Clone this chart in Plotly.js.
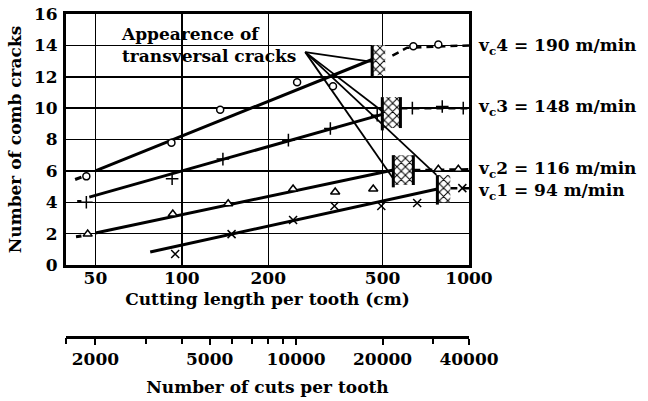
<!DOCTYPE html>
<html>
<head>
<meta charset="utf-8">
<script src="https://cdn.plot.ly/plotly-3.0.1.min.js"></script>
<style>html,body{margin:0;padding:0;background:#fff;}#chart{width:648px;height:401px;}</style>
</head>
<body>
<div id="chart"></div>
<script>
// ---------- data ----------
// x: cutting length per tooth (cm), y: number of comb cracks
const vc4LineX = [50, 460];      const vc4LineY = [6.0, 13.1];
const vc4LeadX = [42.5, 44.7];   const vc4LeadY = [5.45, 5.6];
const vc4PtsX  = [46.5, 92, 136, 252, 336, 640, 782];
const vc4PtsY  = [5.65, 7.8, 9.9, 11.65, 11.4, 13.95, 14.05];
const vc4AfterX = [541, 609, 1000]; const vc4AfterY = [13.35, 13.85, 14.0];
const vc4BoxX = [460, 511];      const vc4BoxY = [12.1, 14.0];

const vc3LineX = [47.6, 499];    const vc3LineY = [4.33, 9.6];
const vc3LeadX = [43.2, 44.7];   const vc3LeadY = [4.05, 4.05];
const vc3PtsX  = [46.5, 92.5, 139, 235, 329, 479, 635, 807, 955];
const vc3PtsY  = [4.0, 5.5, 6.75, 7.96, 8.7, 9.55, 10.0, 10.1, 10.0];
const vc3AfterX = [577, 1000];   const vc3AfterY = [10.0, 10.0];
const vc3BoxX = [499, 577];      const vc3BoxY = [8.73, 10.7];

const vc2LineX = [50, 545];      const vc2LineY = [2.04, 6.05];
const vc2LeadX = [42.8, 44.7];   const vc2LeadY = [1.8, 1.85];
const vc2PtsX  = [47, 93, 145, 244, 342, 464, 782, 918];
const vc2PtsY  = [1.97, 3.25, 3.9, 4.84, 4.65, 4.84, 6.1, 6.1];
const vc2AfterX = [640, 1000];   const vc2AfterY = [6.05, 6.1];
const vc2BoxX = [545, 640];      const vc2BoxY = [5.1, 7.0];

const vc1LineX = [77.6, 776];    const vc1LineY = [0.83, 4.84];
const vc1PtsX  = [94.8, 149, 244, 340, 495, 660, 948];
const vc1PtsY  = [0.7, 1.97, 2.87, 3.76, 3.76, 3.95, 4.9];
const vc1AfterX = [861, 1000];   const vc1AfterY = [4.9, 4.9];
const vc1BoxX = [776, 861];      const vc1BoxY = [4.0, 5.73];

// pointer lines from the "Appearence of transversal cracks" label
const pointerOrigin = [269, 13.57];
const pointerTargetsX = [460, 499, 545, 770];
const pointerTargetsY = [12.95, 9.8, 5.5, 5.75];

const xTickVals = [50, 100, 200, 500, 1000];
const yTickVals = [0, 2, 4, 6, 8, 10, 12, 14, 16];
const cutsTickVals = [2000, 5000, 10000, 20000, 40000];
const cutsMinorTickVals = [1580, 3000, 4000, 6000, 7000, 8000, 9000, 30000];
const cutsRange = [1580, 40000];
const lengthRange = [39.5, 1000];

const speedLabels = ['v<sub>c</sub>4 = 190 m/min', 'v<sub>c</sub>3 = 148 m/min', 'v<sub>c</sub>2 = 116 m/min', 'v<sub>c</sub>1 = 94 m/min'];

// ---------- traces ----------
const K = 'black';
const traces = [];
function lineTrace(x, y, w, dash) {
  return {x: x, y: y, mode: 'lines', line: {color: K, width: w, dash: dash || 'solid'}, hoverinfo: 'skip', showlegend: false};
}
function boxTrace(bx, by) {
  return {x: [bx[0], bx[1], bx[1], bx[0], bx[0]], y: [by[0], by[0], by[1], by[1], by[0]],
    mode: 'lines', fill: 'toself', fillcolor: 'white',
    fillpattern: {shape: 'x', fgcolor: K, bgcolor: 'white', size: 6, solidity: 0.3},
    line: {width: 0}, hoverinfo: 'skip', showlegend: false};
}
function edgeTrace(bx, by, both) {
  const x = [bx[0], bx[0]], y = [by[0] - 0.15, by[1]];
  if (both) { x.push(null, bx[1], bx[1]); y.push(null, by[0], by[1]); }
  return {x: x, y: y, mode: 'lines', line: {color: K, width: 3}, hoverinfo: 'skip', showlegend: false};
}
function ptsTrace(x, y, sym, size, fill) {
  return {x: x, y: y, mode: 'markers', marker: {symbol: sym, size: size, color: fill, line: {color: K, width: 1.5}},
    hoverinfo: 'skip', showlegend: false};
}

const series = [
  {lx: vc4LineX, ly: vc4LineY, ex: vc4LeadX, ey: vc4LeadY, px: vc4PtsX, py: vc4PtsY, ax: vc4AfterX, ay: vc4AfterY, bx: vc4BoxX, by: vc4BoxY, sym: 'circle', size: 7, fill: 'white', both: false},
  {lx: vc3LineX, ly: vc3LineY, ex: vc3LeadX, ey: vc3LeadY, px: vc3PtsX, py: vc3PtsY, ax: vc3AfterX, ay: vc3AfterY, bx: vc3BoxX, by: vc3BoxY, sym: 'cross-thin-open', size: 9, fill: K, both: true},
  {lx: vc2LineX, ly: vc2LineY, ex: vc2LeadX, ey: vc2LeadY, px: vc2PtsX, py: vc2PtsY, ax: vc2AfterX, ay: vc2AfterY, bx: vc2BoxX, by: vc2BoxY, sym: 'triangle-up', size: 8, fill: 'white', both: true},
  {lx: vc1LineX, ly: vc1LineY, ex: null, ey: null, px: vc1PtsX, py: vc1PtsY, ax: vc1AfterX, ay: vc1AfterY, bx: vc1BoxX, by: vc1BoxY, sym: 'x-thin-open', size: 8, fill: K, both: false}
];

series.forEach(s => {
  traces.push(lineTrace(s.lx, s.ly, 3));
  if (s.ex) traces.push(lineTrace(s.ex, s.ey, 3));
  traces.push(lineTrace(s.ax, s.ay, 2.5, '7px,5px'));
  traces.push(boxTrace(s.bx, s.by));
  traces.push(edgeTrace(s.bx, s.by, s.both));
});
// pointer lines
const pX = [], pY = [];
pointerTargetsX.forEach((tx, i) => { pX.push(pointerOrigin[0], tx, null); pY.push(pointerOrigin[1], pointerTargetsY[i], null); });
traces.push({x: pX, y: pY, mode: 'lines', line: {color: K, width: 1.8}, hoverinfo: 'skip', showlegend: false});
series.forEach(s => traces.push(ptsTrace(s.px, s.py, s.sym, s.size, s.fill)));
// dummy traces to carry the second (cuts) axis and its unlabeled ticks
traces.push({x: cutsRange, y: [-10, -10], xaxis: 'x2', yaxis: 'y', mode: 'lines', line: {width: 0}, hoverinfo: 'skip', showlegend: false});
traces.push({x: cutsRange, y: [-10, -10], xaxis: 'x3', yaxis: 'y', mode: 'lines', line: {width: 0}, hoverinfo: 'skip', showlegend: false});

// ---------- layout ----------
const L = 66, R = 469, T = 14, B = 337, AXB = 265;
const px2x = p => (p - L) / (R - L);
const py2y = p => (B - p) / (B - T);
const font = {family: 'DejaVu Serif', size: 17, color: K, weight: 'bold'};

const layout = {
  width: 648, height: 401,
  margin: {l: L, r: 648 - R, t: T, b: 401 - B, pad: 0},
  paper_bgcolor: 'white', plot_bgcolor: 'white',
  font: font,
  showlegend: false,
  xaxis: {
    type: 'log', range: lengthRange.map(Math.log10),
    tickvals: xTickVals, ticktext: xTickVals.map(String),
    showgrid: true, gridcolor: K, gridwidth: 1.5,
    showline: true, linecolor: K, linewidth: 3, mirror: true,
    ticks: '', ticklabelstandoff: -4,
    tickfont: font, zeroline: false,
    title: {text: 'Cutting length per tooth (cm)', font: font, standoff: 6}
  },
  xaxis2: {
    type: 'log', range: cutsRange.map(Math.log10),
    overlaying: 'x', anchor: 'free', position: 0, side: 'bottom',
    tickvals: cutsTickVals, ticktext: cutsTickVals.map(String),
    showgrid: false, showline: true, linecolor: K, linewidth: 3,
    ticks: 'outside', ticklen: 6, tickwidth: 2, tickcolor: K,
    tickfont: font, zeroline: false,
    title: {text: 'Number of cuts per tooth', font: font, standoff: 12}
  },
  xaxis3: {
    type: 'log', range: cutsRange.map(Math.log10),
    overlaying: 'x', anchor: 'free', position: 0, side: 'bottom',
    tickvals: cutsMinorTickVals, showticklabels: false,
    showgrid: false, showline: false, zeroline: false,
    ticks: 'outside', ticklen: 6, tickwidth: 2, tickcolor: K
  },
  yaxis: {
    domain: [(B - AXB) / (B - T), 1],
    range: [0, 16], tickvals: yTickVals, ticktext: yTickVals.map(String),
    showgrid: true, gridcolor: K, gridwidth: 1.5,
    showline: true, linecolor: K, linewidth: 3, mirror: true,
    ticks: '', ticklabelstandoff: 2, zeroline: false,
    tickfont: font,
    title: {text: 'Number of comb cracks', font: font, standoff: 8}
  },
  shapes: [
    {type: 'rect', xref: 'paper', yref: 'paper', layer: 'between',
     x0: px2x(113), x1: px2x(358), y0: py2y(62), y1: py2y(16), fillcolor: 'white', line: {width: 0}},
    {type: 'rect', xref: 'paper', yref: 'paper', layer: 'between',
     x0: px2x(130), x1: px2x(292), y0: py2y(79), y1: py2y(16), fillcolor: 'white', line: {width: 0}}
  ],
  annotations: [
    {xref: 'paper', yref: 'paper', x: px2x(119), y: py2y(22), xanchor: 'left', yanchor: 'top', align: 'left',
     showarrow: false, text: 'Appearence of<br>transversal cracks', font: font},
    {xref: 'paper', yref: 'paper', x: px2x(476), y: py2y(46), xanchor: 'left', yanchor: 'middle', showarrow: false, text: speedLabels[0], font: font},
    {xref: 'paper', yref: 'paper', x: px2x(476), y: py2y(107), xanchor: 'left', yanchor: 'middle', showarrow: false, text: speedLabels[1], font: font},
    {xref: 'paper', yref: 'paper', x: px2x(476), y: py2y(169), xanchor: 'left', yanchor: 'middle', showarrow: false, text: speedLabels[2], font: font},
    {xref: 'paper', yref: 'paper', x: px2x(476), y: py2y(191), xanchor: 'left', yanchor: 'middle', showarrow: false, text: speedLabels[3], font: font}
  ]
};

Plotly.newPlot('chart', traces, layout, {staticPlot: true, displayModeBar: false});
</script>
</body>
</html>
